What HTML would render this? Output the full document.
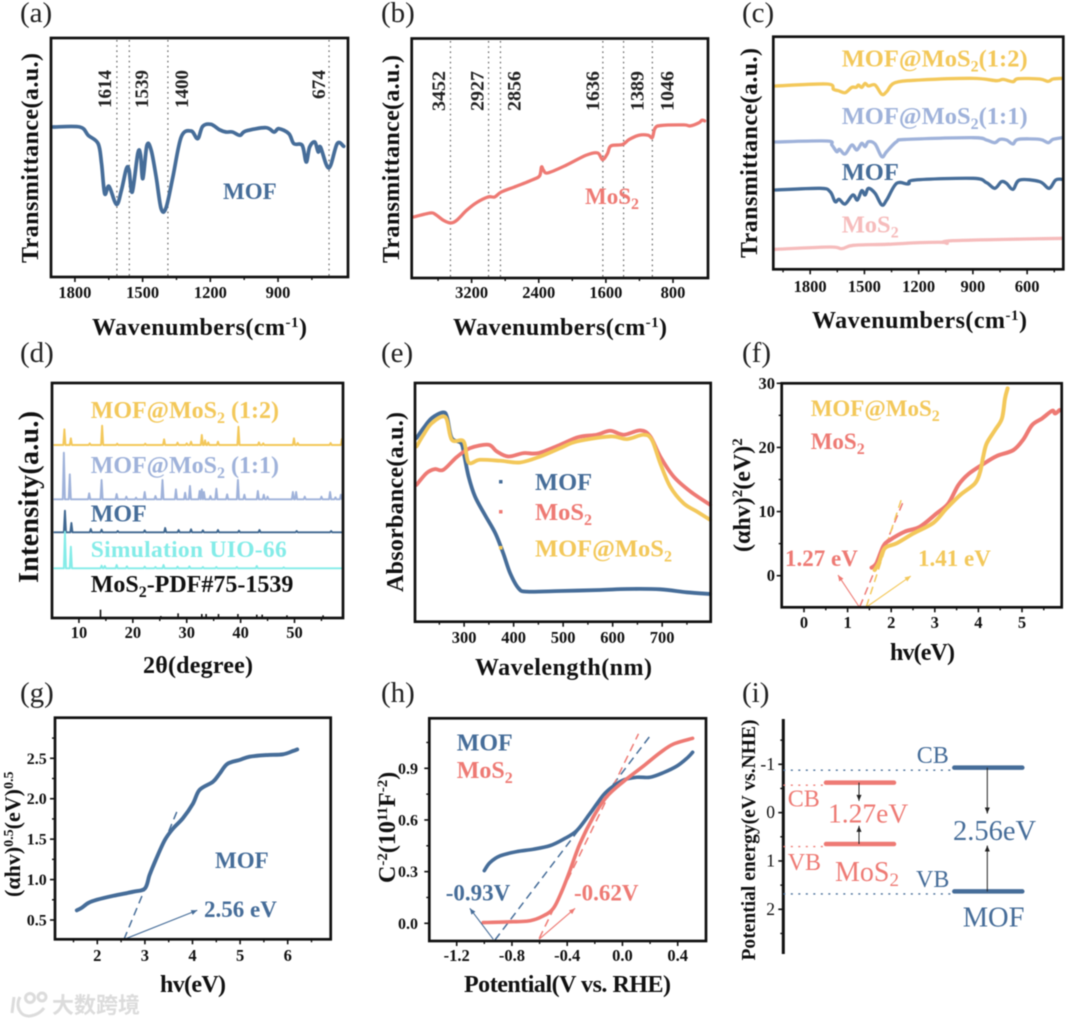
<!DOCTYPE html>
<html lang="en">
<head>
<meta charset="utf-8">
<title>MOF and MoS2 characterization figure</title>
<style>
html,body{margin:0;padding:0;background:#fff;width:1080px;height:1024px;overflow:hidden}
svg{display:block;filter:blur(0.55px);font-family:"Liberation Serif","Noto Serif CJK SC",serif}
text{font-weight:bold}
.frame{fill:none;stroke:#111;stroke-width:2.7}
.reg{font-weight:normal}
.panel{font-weight:normal;font-size:29px;fill:#222}
.peak{font-size:19px;fill:#222}
.ax{font-size:24px;fill:#111}
.navy{fill:#466d99}.salmon{fill:#ee7a74}.yellow{fill:#f3c85a}.lav{fill:#9fb2da}.pink{fill:#f6bcbc}.cyan{fill:#84ece8}
</style>
</head>
<body>
<svg id="figure" xmlns="http://www.w3.org/2000/svg" width="1080" height="1024" viewBox="0 0 1080 1024">
<rect width="1080" height="1024" fill="#fff"/>
<g id="marks"></g>
<g id="static">
  <rect class="frame" x="51" y="38" width="297" height="239"/>
  <rect class="frame" x="411.7" y="38.5" width="296.3" height="239.5"/>
  <rect class="frame" x="773.3" y="36.7" width="290" height="232.6"/>
  <rect class="frame" x="52" y="383" width="291" height="235"/>
  <rect class="frame" x="415" y="383" width="295.7" height="238.7"/>
  <rect class="frame" x="781.7" y="383.3" width="280" height="224"/>
  <rect class="frame" x="55" y="717.7" width="275.7" height="221.6"/>
  <rect class="frame" x="429.3" y="718.3" width="276.7" height="222.7"/>

  <text class="panel" x="20" y="22">(a)</text>
  <text class="panel" x="381" y="22">(b)</text>
  <text class="panel" x="742" y="22">(c)</text>
  <text class="panel" x="20" y="362">(d)</text>
  <text class="panel" x="381" y="362">(e)</text>
  <text class="panel" x="742" y="362">(f)</text>
  <text class="panel" x="20" y="702">(g)</text>
  <text class="panel" x="381" y="702">(h)</text>
  <text class="panel" x="742" y="702">(i)</text>

  <text class="ax" x="92" y="335" textLength="215">Wavenumbers(cm<tspan dy="-8" font-size="15">-1</tspan><tspan dy="8">)</tspan></text>
  <text class="ax" x="453" y="335" textLength="214">Wavenumbers(cm<tspan dy="-8" font-size="15">-1</tspan><tspan dy="8">)</tspan></text>
  <text class="ax" x="812" y="328" textLength="215">Wavenumbers(cm<tspan dy="-8" font-size="15">-1</tspan><tspan dy="8">)</tspan></text>
  <text class="ax" x="143" y="673" textLength="110">2θ(degree)</text>
  <text class="ax" x="475" y="675" textLength="177">Wavelength(nm)</text>
  <text class="ax" x="890" y="660" textLength="65">hv(eV)</text>
  <text class="ax" x="160" y="992" textLength="66">hv(eV)</text>
  <text class="ax" x="464" y="992" textLength="207">Potential(V vs. RHE)</text>

  <text class="ax" text-anchor="middle" textLength="210" transform="translate(38,158) rotate(-90)">Transmittance(a.u.)</text>
  <text class="ax" text-anchor="middle" textLength="208" transform="translate(399,159) rotate(-90)">Transmittance(a.u.)</text>
  <text class="ax" text-anchor="middle" textLength="210" transform="translate(757,153) rotate(-90)">Transmittance(a.u.)</text>
  <text class="ax" style="font-size:28px" text-anchor="middle" textLength="172" transform="translate(38,497) rotate(-90)">Intensity(a.u.)</text>
  <text class="ax" text-anchor="middle" textLength="180" transform="translate(403,502) rotate(-90)">Absorbance(a.u.)</text>
  <text class="ax" transform="translate(750,552) rotate(-90)" style="font-size:24px">(αhv)<tspan dy="-8" font-size="15">2</tspan><tspan dy="8">(eV)</tspan><tspan dy="-8" font-size="15">2</tspan></text>
  <text class="ax" transform="translate(20,897) rotate(-90)" style="font-size:22px">(αhv)<tspan dy="-7" font-size="14">0.5</tspan><tspan dy="7">(eV)</tspan><tspan dy="-7" font-size="14">0.5</tspan></text>
  <text class="ax" transform="translate(395,883) rotate(-90)" style="font-size:24px">C<tspan dy="-8" font-size="15">-2</tspan><tspan dy="8">(10</tspan><tspan dy="-8" font-size="15">11</tspan><tspan dy="8">F</tspan><tspan dy="-8" font-size="15">-2</tspan><tspan dy="8">)</tspan></text>
  <text class="ax" style="font-size:19.5px" text-anchor="middle" textLength="241" transform="translate(755,840) rotate(-90)">Potential energy(eV vs.NHE)</text>

  <text class="peak" style="font-size:19px" textLength="38" lengthAdjust="spacingAndGlyphs" transform="translate(111,108) rotate(-90)">1614</text>
  <text class="peak" style="font-size:19px" textLength="38" lengthAdjust="spacingAndGlyphs" transform="translate(148,108) rotate(-90)">1539</text>
  <text class="peak" style="font-size:19px" textLength="38" lengthAdjust="spacingAndGlyphs" transform="translate(188,108) rotate(-90)">1400</text>
  <text class="peak" style="font-size:19px" textLength="29" lengthAdjust="spacingAndGlyphs" transform="translate(325,99) rotate(-90)">674</text>
  <text class="peak" style="font-size:19px" textLength="40" lengthAdjust="spacingAndGlyphs" transform="translate(445,111) rotate(-90)">3452</text>
  <text class="peak" style="font-size:19px" textLength="40" lengthAdjust="spacingAndGlyphs" transform="translate(483.3,111) rotate(-90)">2927</text>
  <text class="peak" style="font-size:19px" textLength="40" lengthAdjust="spacingAndGlyphs" transform="translate(520.7,111) rotate(-90)">2856</text>
  <text class="peak" style="font-size:19px" textLength="40" lengthAdjust="spacingAndGlyphs" transform="translate(599,111) rotate(-90)">1636</text>
  <text class="peak" style="font-size:19px" textLength="40" lengthAdjust="spacingAndGlyphs" transform="translate(643.3,111) rotate(-90)">1389</text>
  <text class="peak" style="font-size:19px" textLength="40" lengthAdjust="spacingAndGlyphs" transform="translate(673.3,111) rotate(-90)">1046</text>

  <text class="navy" x="223" y="199" font-size="23">MOF</text>
  <text class="salmon" x="585" y="204" font-size="23">MoS<tspan dy="5" font-size="16">2</tspan></text>

  <text class="yellow" x="841.7" y="66.7" font-size="24.5">MOF@MoS<tspan dy="5" font-size="16">2</tspan><tspan dy="-5">(1:2)</tspan></text>
  <text class="lav" x="841.7" y="124" font-size="24.5">MOF@MoS<tspan dy="5" font-size="16">2</tspan><tspan dy="-5">(1:1)</tspan></text>
  <text class="navy" x="841.7" y="180" font-size="24.5">MOF</text>
  <text class="pink" x="841.7" y="232.7" font-size="24.5">MoS<tspan dy="5" font-size="16">2</tspan></text>

  <text class="yellow" x="90.7" y="418" font-size="24">MOF@MoS<tspan dy="5" font-size="16">2</tspan><tspan dy="-5"> (1:2)</tspan></text>
  <text class="lav" x="90.7" y="473" font-size="24">MOF@MoS<tspan dy="5" font-size="16">2</tspan><tspan dy="-5"> (1:1)</tspan></text>
  <text class="navy" x="90.7" y="521.7" font-size="24">MOF</text>
  <text class="cyan" x="90.7" y="557" font-size="23.5" textLength="196">Simulation UIO-66</text>
  <text x="90.7" y="592" font-size="24" fill="#111">MoS<tspan dy="5" font-size="16">2</tspan><tspan dy="-5">-PDF#75-1539</tspan></text>

  <rect x="499" y="480" width="3.5" height="3.5" fill="#466d99"/>
  <rect x="499" y="510" width="3.5" height="3.5" fill="#ee7a74"/>
  <rect x="499" y="546" width="3.5" height="3.5" fill="#f3c85a"/>
  <text class="navy" x="535" y="490" font-size="24.5">MOF</text>
  <text class="salmon" x="535" y="520" font-size="24.5">MoS<tspan dy="5" font-size="16">2</tspan></text>
  <text class="yellow" x="535" y="556.7" font-size="24.5">MOF@MoS<tspan dy="5" font-size="16">2</tspan></text>

  <text class="yellow" x="810.7" y="416" font-size="23">MOF@MoS<tspan dy="5" font-size="16">2</tspan></text>
  <text class="salmon" x="810.7" y="449" font-size="23">MoS<tspan dy="5" font-size="16">2</tspan></text>
  <text class="salmon" x="785" y="566" font-size="23">1.27 eV</text>
  <text class="yellow" x="918" y="566" font-size="23">1.41 eV</text>

  <text class="navy" x="215" y="868" font-size="23">MOF</text>
  <text class="navy" x="204" y="917" font-size="23">2.56 eV</text>

  <text class="navy" x="456.7" y="750.7" font-size="24">MOF</text>
  <text class="salmon" x="456.7" y="778" font-size="24">MoS<tspan dy="5" font-size="16">2</tspan></text>
  <text class="navy" x="445.7" y="900.7" font-size="23">-0.93V</text>
  <text class="salmon" x="574" y="900.7" font-size="23">-0.62V</text>

  <text class="navy reg" x="916.7" y="763" font-size="24">CB</text>
  <text class="salmon reg" x="787.7" y="806.7" font-size="24">CB</text>
  <text class="salmon reg" x="828" y="822.7" font-size="27.5">1.27eV</text>
  <text class="salmon reg" x="787.7" y="870" font-size="24">VB</text>
  <text class="salmon reg" x="835" y="881" font-size="28">MoS<tspan dy="5" font-size="19">2</tspan></text>
  <text class="navy reg" x="953" y="840" font-size="28.5">2.56eV</text>
  <text class="navy reg" x="916" y="887" font-size="24">VB</text>
  <text class="navy reg" x="962.7" y="926.7" font-size="28.5">MOF</text>

  <g fill="none" stroke="#dcdcdc" stroke-width="3">
    <path d="M14 997 L12 1013 M20 997 C15 1006 20 1017 30 1016 C37 1015 41 1012 44 1008"/>
    <circle cx="30" cy="998" r="4.5"/><circle cx="42" cy="997" r="4"/>
  </g>
  <text x="52" y="1013" font-size="22" fill="#dcdcdc" style="font-family:'Noto Sans CJK SC',sans-serif">大数跨境</text>
</g>
</svg>
<script>
/* ---------- Panel (a) FTIR MOF ---------- */
const aWavenumber=[1896,1778,1741,1697,1682,1668,1649,1616,1594,1572,1560,1546,1521,1509,1499,1481,1462,1440,1418,1396,1366,1329,1285,1256,1234,1197,1160,1131,1102,1069,1043,954,918,896,852,830,793,775,760,737,722,712,675,638,609];
const aTransmittance=[450,450,425,400,340,250,272,218,260,325,320,255,372,365,295,395,380,300,205,208,300,420,438,415,452,458,442,435,435,425,438,448,435,445,430,400,395,345,390,405,375,390,327,400,392];
const aMarkers=[1614,1559,1388,674];
const aTicks=[1800,1500,1200,900];
const aTickLabels=['1800','1500','1200','900'];
const aMinor=[1650,1350,1050,750];

/* ---------- Panel (b) FTIR MoS2 ---------- */
const bWavenumber=[3891,3694,3634,3536,3449,3378,3259,3141,3003,2924,2845,2667,2469,2390,2367,2343,2292,2074,1837,1699,1640,1581,1541,1403,1324,1205,1095,1047,1016,949,672,593,494,455,423];
const bTransmittance=[183,195,191,173,165,173,203,226,243,243,258,275,295,306,333,323,315,338,368,375,355,373,396,400,415,428,428,421,448,457,459,456,465,473,471];
const bMarkers=[3452,2998,2856,1636,1389,1046];
const bTicks=[3200,2400,1600,800];
const bTickLabels=['3200','2400','1600','800'];
const bMinor=[3600,2800,2000,1200];

/* ---------- Panel (c) FTIR comparison ---------- */
const cYellowX=[1993,1708,1671,1644,1607,1570,1546,1533,1515,1496,1478,1441,1404,1377,1331,1193,898,770,733,678,650,530,484,457,405];
const cYellowY=[550,556,540,536,530,546,546,553,546,558,550,553,525,533,560,568,573,566,570,563,572,571,564,571,573];
const cLavenderX=[1993,1708,1680,1653,1638,1607,1570,1542,1515,1496,1478,1441,1404,1377,1322,1266,898,825,779,751,714,678,650,530,484,457,405];
const cLavenderY=[382,385,373,353,360,346,373,358,378,368,383,376,338,353,383,390,395,388,380,390,388,376,390,390,380,390,395];
const cNavyX=[1993,1745,1690,1662,1640,1607,1564,1539,1515,1496,1478,1441,1404,1377,1322,1257,1220,898,825,779,742,714,678,641,530,479,442,405];
const cNavyY=[238,243,233,203,210,196,223,208,236,223,243,228,193,208,258,256,268,273,260,243,263,258,240,268,263,243,268,270];
const cPinkX=[1993,1690,1625,1561,1377,1193,1064,1042,1009,405];
const cPinkY=[60,67,62,72,75,80,81,78,86,93];
const cTicks=[1800,1500,1200,900,600];
const cTickLabels=['1800','1500','1200','900','600'];
const cMinor=[1950,1650,1350,1050,750,450];

/* ---------- Panel (d) XRD ---------- */
const dYellowBase=519;
const dYellowPos=[7.3,8.5,12,14.3,17.1,22.3,25.8,28.3,30,30.8,32.8,33.4,34,35.8,39.6,43.4,44.2,49.9,50.6,56.7,58.8];
const dYellowHeight=[47,20,5,58,4,4,17,7,5,10,30,14,8,10,55,8,5,20,6,6,18];
const dLavenderBase=356;
const dLavenderPos=[7.2,8.3,11.9,14.2,17,18.8,20.6,22.2,24.2,25.5,28,29.7,30.6,32.4,32.8,33.2,34.4,35.5,37.5,39.5,40.7,43.2,44.3,45,49.7,50.3,51.9,55,56.6,57.6,58.6];
const dLavenderHeight=[140,75,18,58,16,8,5,22,10,58,30,20,40,25,30,22,10,32,15,58,14,25,14,8,22,22,8,8,22,6,14];
const dNavyBase=257;
const dNavyPos=[7.4,8.6,12.2,14.2,17.2,22.2,26,28.5,30.8,33,35.8,39.7,43.5,50.4,56.8];
const dNavyHeight=[65,28,10,8,4,6,13,7,9,6,7,5,7,4,4];
const dCyanBase=149;
const dCyanPos=[7.4,8.5,14.2,14.8,17,18.9,22.2,24.2,25.7,28.3,30.5,33,35.5,39.3,43,48];
const dCyanHeight=[110,65,8,7,10,6,5,4,10,5,6,4,4,4,7,3];
const dPdfPos=[14,25.2,28.4,32.8,33.6,35.9,39.5,43,44,48.6,55.3];
const dPdfHeight=[25,6,14,12,12,12,12,10,10,8,8];
const dTicks=[10,20,30,40,50];
const dTickLabels=['10','20','30','40','50'];
const dMinor=[15,25,35,45,55];

/* ---------- Panel (e) UV-vis ---------- */
const eMofX=[204,218,235,258,266,275,294,300,309,322,342,363,379,393,410,427,494,575,629,696,750,797];
const eMofY=[550,580,610,627,610,550,535,500,435,375,320,265,205,145,100,90,92,95,98,97,88,83];
const eMosX=[204,224,241,258,285,312,349,366,389,420,450,494,531,568,595,622,656,676,696,723,757,797];
const eMosY=[410,445,457,455,493,520,530,510,495,505,505,530,553,560,572,560,573,555,495,435,390,350];
const eCompX=[204,218,235,262,275,299,309,332,373,413,454,494,528,595,629,662,679,696,716,743,770,797];
const eCompY=[525,560,595,613,545,540,477,485,482,477,495,520,540,555,547,560,545,475,405,355,330,305];
const eTicks=[300,400,500,600,700];
const eTickLabels=['300','400','500','600','700'];
const eMinor=[250,350,450,550,650,750];

/* ---------- Panel (f) Tauc direct ---------- */
const fMosX=[1.55,1.66,1.82,1.97,2.31,2.66,3.04,3.31,3.54,3.77,4.11,4.42,4.80,5.03,5.23,5.46,5.69,5.76,5.86];
const fMosY=[1.25,1.92,4.62,5.56,6.86,7.64,9.71,11.27,14.13,15.84,17.4,18.65,19.58,21.25,23.48,24.52,25.71,25.3,25.82];
const fCompX=[1.62,1.72,1.85,2.12,2.51,2.97,3.27,3.58,3.92,4.04,4.11,4.19,4.38,4.54,4.61,4.67];
const fCompY=[0.88,2.03,4.26,5.04,6.6,8.26,10.49,12.57,14.39,16.21,18.55,20.62,22.7,24.52,27.64,29.2];
const fTangentMosX=[1.28,2.29];
const fTangentMosY=[-4.83,11.8];
const fTangentCompX=[1.43,2.24];
const fTangentCompY=[-4.83,12.05];
const fArrowMosX=[1.27,0.78];
const fArrowMosY=[-4.9,0.1];
const fArrowCompX=[1.43,2.45];
const fArrowCompY=[-4.9,-0.05];
const fXTicks=[0,1,2,3,4,5];
const fXLabels=['0','1','2','3','4','5'];
const fXMinor=[0.5,1.5,2.5,3.5,4.5,5.5];
const fYTicks=[0,10,20,30];
const fYLabels=['0','10','20','30'];
const fYMinor=[5,15,25];

/* ---------- Panel (g) Tauc indirect ---------- */
const gX=[1.57,1.67,1.81,1.99,2.34,2.76,3.0,3.1,3.24,3.42,3.59,3.8,4.01,4.15,4.43,4.57,4.73,4.99,5.2,5.55,5.9,6.11,6.2];
const gY=[0.62,0.65,0.71,0.75,0.80,0.85,0.89,1.06,1.26,1.49,1.63,1.76,1.94,2.11,2.21,2.31,2.43,2.48,2.52,2.54,2.55,2.59,2.61];
const gTangentX=[2.56,3.70];
const gTangentY=[0.26,1.88];
const gArrowX=[2.56,4.1];
const gArrowY=[0.26,0.62];
const gXTicks=[2,3,4,5,6];
const gXLabels=['2','3','4','5','6'];
const gXMinor=[1.5,2.5,3.5,4.5,5.5,6.5];
const gYTicks=[0.5,1,1.5,2,2.5];
const gYLabels=['0.5','1.0','1.5','2.0','2.5'];
const gYMinor=[0.75,1.25,1.75,2.25,2.75];

/* ---------- Panel (h) Mott-Schottky ---------- */
const hMofX=[-1.0,-0.96,-0.887,-0.766,-0.645,-0.524,-0.428,-0.331,-0.234,-0.138,-0.065,0.007,0.104,0.2,0.297,0.394,0.466,0.508];
const hMofY=[0.306,0.352,0.391,0.416,0.43,0.451,0.488,0.538,0.639,0.745,0.797,0.832,0.848,0.848,0.875,0.913,0.958,0.993];
const hMosX=[-1.008,-0.839,-0.669,-0.573,-0.5,-0.44,-0.379,-0.307,-0.21,-0.114,0.007,0.152,0.273,0.37,0.508];
const hMosY=[0.004,0.008,0.015,0.043,0.087,0.184,0.309,0.464,0.619,0.735,0.823,0.913,0.991,1.041,1.074];
const hTangentMofX=[-0.923,0.2];
const hTangentMofY=[-0.097,1.088];
const hTangentMosX=[-0.602,0.116];
const hTangentMosY=[-0.087,1.10];
const hArrowMofX=[-0.935,-1.105];
const hArrowMofY=[-0.093,0.087];
const hArrowMosX=[-0.604,-0.343];
const hArrowMosY=[-0.093,0.087];
const hXTicks=[-1.2,-0.8,-0.4,0,0.4];
const hXLabels=['-1.2','-0.8','-0.4','0.0','0.4'];
const hXMinor=[-1.0,-0.6,-0.2,0.2];
const hYTicks=[0,0.3,0.6,0.9];
const hYLabels=['0.0','0.3','0.6','0.9'];
const hYMinor=[0.15,0.45,0.75,1.05];

/* ---------- Panel (i) band diagram ---------- */
const iMaterials=['MoS2','MOF'];
const iConduction=[-0.62,-0.93];
const iValence=[0.65,1.63];
const iTicks=[-1,0,1,2];
const iTickLabels=['-1','0','1','2'];
const iMinor=[-1.5,-0.5,0.5,1.5,2.5];

/* ---------- drawing ---------- */
const NS='http://www.w3.org/2000/svg';
const marks=document.getElementById('marks');
const NAVY='#466d99',SALMON='#ee7a74',YELLOW='#f3c85a',LAV='#9fb2da',PINK='#f6bcbc',CYAN='#84ece8',INK='#111';

function linear(d0,d1,r0,r1){return v=>r0+(v-d0)*(r1-r0)/(d1-d0);}

function addEl(tag,attrs,name){
  const el=document.createElementNS(NS,tag);
  for(const k in attrs){el.setAttribute(k,attrs[k]);}
  
  
  marks.appendChild(el);
  return el;
}
function smoothPath(p){
  let d='M'+p[0][0].toFixed(2)+' '+p[0][1].toFixed(2);
  for(let i=0;i<p.length-1;i++){
    const a=p[i-1]||p[i],b=p[i],c=p[i+1],e=p[i+2]||c;
    d+=' C'+(b[0]+(c[0]-a[0])/6).toFixed(2)+' '+(b[1]+(c[1]-a[1])/6).toFixed(2)+' '
       +(c[0]-(e[0]-b[0])/6).toFixed(2)+' '+(c[1]-(e[1]-b[1])/6).toFixed(2)+' '
       +c[0].toFixed(2)+' '+c[1].toFixed(2);
  }
  return d;
}
function curve(xs,ys,sx,sy,color,width,name){
  const pts=xs.map((x,i)=>[sx(x),sy(ys[i])]);
  addEl('path',{d:smoothPath(pts),fill:'none',stroke:color,'stroke-width':width,'stroke-linejoin':'round','stroke-linecap':'round'},name);
}
function peaks(base,pos,height,sx,sy,xMin,xMax,color,name){
  let d='M'+sx(xMin).toFixed(2)+' '+sy(base).toFixed(2);
  pos.forEach((p,i)=>{
    d+=' L'+sx(p-0.2).toFixed(2)+' '+sy(base).toFixed(2);
    d+=' L'+sx(p).toFixed(2)+' '+sy(base+height[i]).toFixed(2);
    d+=' L'+sx(p+0.2).toFixed(2)+' '+sy(base).toFixed(2);
  });
  d+=' L'+sx(xMax).toFixed(2)+' '+sy(base).toFixed(2);
  addEl('path',{d:d,fill:'none',stroke:color,'stroke-width':1.9,'stroke-linejoin':'round'},name);
}
function dashed(xs,ys,sx,sy,color,name){
  addEl('line',{x1:sx(xs[0]),y1:sy(ys[0]),x2:sx(xs[1]),y2:sy(ys[1]),stroke:color,'stroke-width':1.5,'stroke-dasharray':'8 5'},name);
}
function arrowPx(x1,y1,x2,y2,color,width,head,name){
  addEl('line',{x1:x1,y1:y1,x2:x2,y2:y2,stroke:color,'stroke-width':width},name);
  const a=Math.atan2(y2-y1,x2-x1),L=head,W=head*0.42;
  const bx=x2-L*Math.cos(a),by=y2-L*Math.sin(a);
  const pts=[[x2,y2],[bx-W*Math.sin(a),by+W*Math.cos(a)],[bx+W*Math.sin(a),by-W*Math.cos(a)]];
  addEl('polygon',{points:pts.map(q=>q[0].toFixed(2)+','+q[1].toFixed(2)).join(' '),fill:color},name+'-head');
}
function arrow(xs,ys,sx,sy,color,name){
  arrowPx(sx(xs[0]),sy(ys[0]),sx(xs[1]),sy(ys[1]),color,1.1,6,name);
}
function markerLines(values,sx,top,bottom,prefix){
  values.forEach(v=>{
    addEl('line',{x1:sx(v),y1:top,x2:sx(v),y2:bottom,stroke:'#666','stroke-width':1.2,'stroke-dasharray':'1.6 3.6'},prefix+'-'+v);
  });
}
function label(x,y,text,anchor,size,name,normal){
  const el=addEl('text',{x:x,y:y,'text-anchor':anchor,'font-size':size,fill:'#111'},name);
  if(normal){el.setAttribute('class','reg');}
  el.textContent=text;
}
function xAxis(sx,yBase,ticks,labels,minors,labelY,size,prefix){
  ticks.forEach((t,i)=>{
    addEl('line',{x1:sx(t),x2:sx(t),y1:yBase,y2:yBase+5,stroke:INK,'stroke-width':1.6},prefix+'-x-tick');
    label(sx(t),labelY,labels[i],'middle',size,prefix+'-x-tick-label');
  });
  minors.forEach(t=>{
    addEl('line',{x1:sx(t),x2:sx(t),y1:yBase,y2:yBase+3,stroke:INK,'stroke-width':1.4},prefix+'-x-minor-tick');
  });
}
function yAxis(sy,xBase,ticks,labels,minors,labelX,size,prefix,normal){
  ticks.forEach((t,i)=>{
    addEl('line',{x1:xBase-5,x2:xBase,y1:sy(t),y2:sy(t),stroke:INK,'stroke-width':1.6},prefix+'-y-tick');
    label(labelX,sy(t)+5.5,labels[i],'end',size,prefix+'-y-tick-label',normal);
  });
  minors.forEach(t=>{
    addEl('line',{x1:xBase-3,x2:xBase,y1:sy(t),y2:sy(t),stroke:INK,'stroke-width':1.4},prefix+'-y-minor-tick');
  });
}

/* (a) */
const ax=linear(1906,590,51,348), ay=linear(0,717,277,38);
markerLines(aMarkers,ax,40,276,'panel-a-peak-line');
curve(aWavenumber,aTransmittance,ax,ay,NAVY,3.7,'panel-a-mof-spectrum');
xAxis(ax,277,aTicks,aTickLabels,aMinor,298,16.5,'panel-a');

/* (b) */
const bx=linear(3914,383,411.7,708), by=linear(0,718,278,38.5);
markerLines(bMarkers,bx,41,277,'panel-b-peak-line');
curve(bWavenumber,bTransmittance,bx,by,SALMON,3.3,'panel-b-mos2-spectrum');
xAxis(bx,278,bTicks,bTickLabels,bMinor,298,16.5,'panel-b');

/* (c) */
const cx=linear(2004,400,773.3,1063.3), cy=linear(0,698,269.3,36.7);
curve(cYellowX,cYellowY,cx,cy,YELLOW,3.3,'panel-c-mof-mos2-1-2-spectrum');
curve(cLavenderX,cLavenderY,cx,cy,LAV,3.3,'panel-c-mof-mos2-1-1-spectrum');
curve(cNavyX,cNavyY,cx,cy,NAVY,3.3,'panel-c-mof-spectrum');
curve(cPinkX,cPinkY,cx,cy,PINK,3.3,'panel-c-mos2-spectrum');
xAxis(cx,269.3,cTicks,cTickLabels,cMinor,292,16.5,'panel-c');

/* (d) */
const dx=linear(5,59,52,343), dy=linear(0,705,618,383);
peaks(dYellowBase,dYellowPos,dYellowHeight,dx,dy,5.3,59,YELLOW,'panel-d-mof-mos2-1-2-pattern');
peaks(dLavenderBase,dLavenderPos,dLavenderHeight,dx,dy,5.3,59,LAV,'panel-d-mof-mos2-1-1-pattern');
peaks(dNavyBase,dNavyPos,dNavyHeight,dx,dy,5.3,59,'#3f6790','panel-d-mof-pattern');
peaks(dCyanBase,dCyanPos,dCyanHeight,dx,dy,5.3,59,CYAN,'panel-d-simulation-pattern');
dPdfPos.forEach((p,i)=>{
  addEl('line',{x1:dx(p),x2:dx(p),y1:dy(0),y2:dy(dPdfHeight[i]),stroke:INK,'stroke-width':1.6},'panel-d-pdf-stick');
});
xAxis(dx,618,dTicks,dTickLabels,dMinor,638,16.5,'panel-d');

/* (e) */
const ex=linear(200.8,798,415,710.7), ey=linear(0,715,621.7,383);
curve(eMofX,eMofY,ex,ey,NAVY,3.8,'panel-e-mof-curve');
curve(eMosX,eMosY,ex,ey,SALMON,3.8,'panel-e-mos2-curve');
curve(eCompX,eCompY,ex,ey,YELLOW,3.8,'panel-e-mof-mos2-curve');
xAxis(ex,621.7,eTicks,eTickLabels,eMinor,643,16.5,'panel-e');

/* (f) */
const fx=linear(0,5,804,1022), fy=linear(0,30,575.7,383.3);
dashed(fTangentMosX,fTangentMosY,fx,fy,SALMON,'panel-f-mos2-tangent');
dashed(fTangentCompX,fTangentCompY,fx,fy,YELLOW,'panel-f-mof-mos2-tangent');
curve(fMosX,fMosY,fx,fy,SALMON,4,'panel-f-mos2-curve');
curve(fCompX,fCompY,fx,fy,YELLOW,4,'panel-f-mof-mos2-curve');
arrow(fArrowMosX,fArrowMosY,fx,fy,SALMON,'panel-f-mos2-arrow');
arrow(fArrowCompX,fArrowCompY,fx,fy,YELLOW,'panel-f-mof-mos2-arrow');
xAxis(fx,607.3,fXTicks,fXLabels,fXMinor,628,16.5,'panel-f');
yAxis(fy,781.7,fYTicks,fYLabels,fYMinor,775,16.5,'panel-f');

/* (g) */
const gx=linear(2,6,97.3,287.7), gy=linear(0.5,2.5,920,758.3);
dashed(gTangentX,gTangentY,gx,gy,NAVY,'panel-g-tangent');
curve(gX,gY,gx,gy,NAVY,3.9,'panel-g-mof-curve');
arrow(gArrowX,gArrowY,gx,gy,NAVY,'panel-g-arrow');
xAxis(gx,939.3,gXTicks,gXLabels,gXMinor,961,16.5,'panel-g');
yAxis(gy,55,gYTicks,gYLabels,gYMinor,46.7,16,'panel-g');

/* (h) */
const hx=linear(-1.2,0.4,456.7,677.7), hy=linear(0,0.9,923.3,768.3);
dashed(hTangentMofX,hTangentMofY,hx,hy,NAVY,'panel-h-mof-tangent');
dashed(hTangentMosX,hTangentMosY,hx,hy,SALMON,'panel-h-mos2-tangent');
curve(hMofX,hMofY,hx,hy,NAVY,3.6,'panel-h-mof-curve');
curve(hMosX,hMosY,hx,hy,SALMON,3.6,'panel-h-mos2-curve');
arrow(hArrowMofX,hArrowMofY,hx,hy,NAVY,'panel-h-mof-arrow');
arrow(hArrowMosX,hArrowMosY,hx,hy,SALMON,'panel-h-mos2-arrow');
xAxis(hx,941,hXTicks,hXLabels,hXMinor,961,16.5,'panel-h');
yAxis(hy,429.3,hYTicks,hYLabels,hYMinor,418,16,'panel-h');

/* (i) */
const iy=linear(-1,2,764.3,909.3);
const iAxisX=783.3;
const iCenter=i=>860+i*128.3;
const iHalf=34;
const iColor=[SALMON,NAVY];
const iGap=[12.5,16];
addEl('line',{x1:iAxisX,x2:iAxisX,y1:719,y2:954,stroke:INK,'stroke-width':3},'panel-i-axis-line');
yAxis(iy,iAxisX,iTicks,iTickLabels,iMinor,775,17.5,'panel-i',true);
iMaterials.forEach((m,i)=>{
  const cx0=iCenter(i),yc=iy(iConduction[i]),yv=iy(iValence[i]),mid=(yc+yv)/2,c=iColor[i];
  addEl('line',{x1:iAxisX,x2:cx0-iHalf,y1:yc+2.5,y2:yc+2.5,stroke:c,'stroke-width':1.3,'stroke-dasharray':'2 5.5'},'panel-i-'+m+'-cb-dotted');
  addEl('line',{x1:iAxisX,x2:cx0-iHalf,y1:yv+2.5,y2:yv+2.5,stroke:c,'stroke-width':1.3,'stroke-dasharray':'2 5.5'},'panel-i-'+m+'-vb-dotted');
  addEl('line',{x1:cx0-iHalf,x2:cx0+iHalf,y1:yc,y2:yc,stroke:c,'stroke-width':4.5,'stroke-linecap':'round'},'panel-i-'+m+'-cb-level');
  addEl('line',{x1:cx0-iHalf,x2:cx0+iHalf,y1:yv,y2:yv,stroke:c,'stroke-width':4.5,'stroke-linecap':'round'},'panel-i-'+m+'-vb-level');
  arrowPx(cx0-1,yc,cx0-1,mid-iGap[i],'#222',1,6,'panel-i-'+m+'-down-arrow');
  arrowPx(cx0-1,yv,cx0-1,mid+iGap[i],'#222',1,6,'panel-i-'+m+'-up-arrow');
});
</script>
</body>
</html>
